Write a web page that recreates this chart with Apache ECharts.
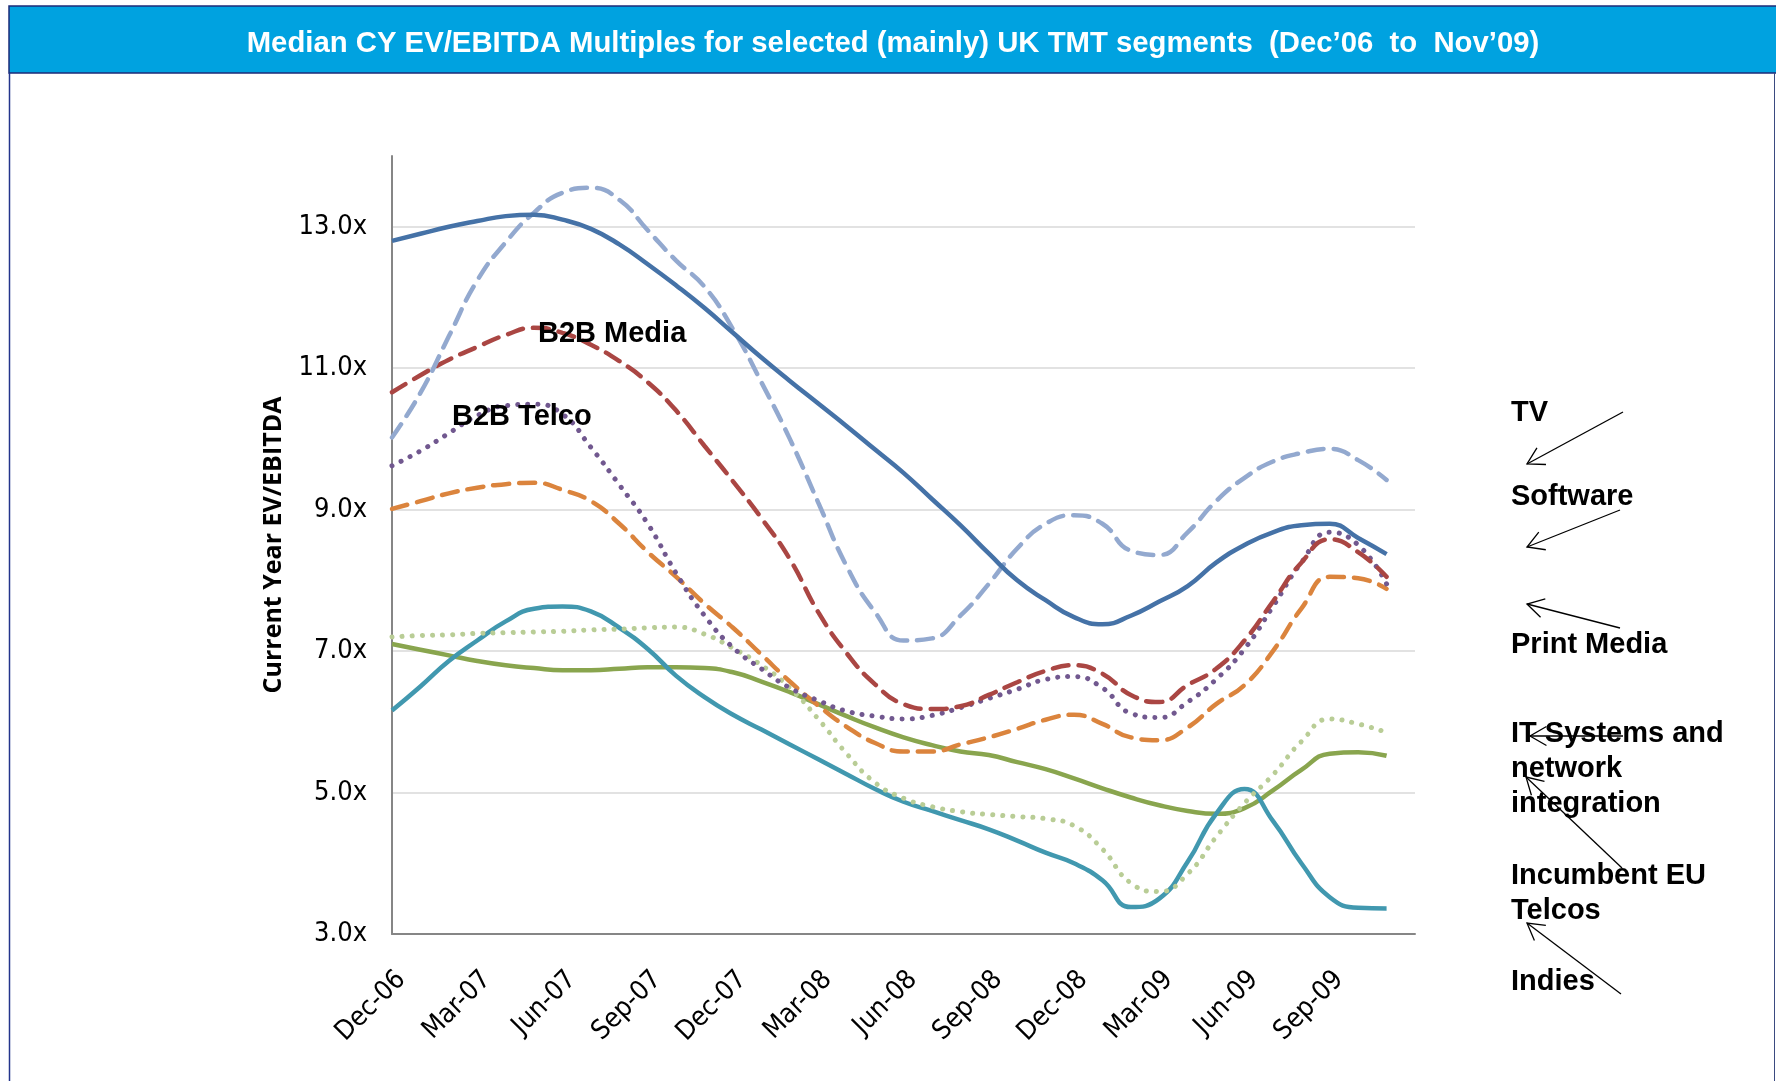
<!DOCTYPE html>
<html>
<head>
<meta charset="utf-8">
<script src="https://cdn.jsdelivr.net/npm/echarts@6/dist/echarts.min.js"></script>
<style>
    html, body { margin: 0; padding: 0; background: #fff; }
    #chart { width: 1776px; height: 1081px; }
</style>
</head>
<body>
<div id="chart"></div>
<script>
(function () {
    var chart = echarts.init(document.getElementById('chart'));

    // months on the category axis (last one is only axis room, no point)
    var months = ['Dec-06', 'Jan-07', 'Feb-07', 'Mar-07', 'Apr-07', 'May-07', 'Jun-07', 'Jul-07', 'Aug-07',
        'Sep-07', 'Oct-07', 'Nov-07', 'Dec-07', 'Jan-08', 'Feb-08', 'Mar-08', 'Apr-08', 'May-08', 'Jun-08',
        'Jul-08', 'Aug-08', 'Sep-08', 'Oct-08', 'Nov-08', 'Dec-08', 'Jan-09', 'Feb-09', 'Mar-09', 'Apr-09',
        'May-09', 'Jun-09', 'Jul-09', 'Aug-09', 'Sep-09', 'Oct-09', 'Nov-09', 'Dec-09'];

    var yTicks = [3, 5, 7, 9, 11, 13];

    var tvData = [10.02, 10.65, 11.45, 12.24, 12.78, 13.20, 13.48, 13.55, 13.38, 12.95, 12.52, 12.15, 11.55, 10.80,
        10.00, 9.10, 8.20, 7.55, 7.15, 7.18, 7.50, 7.95, 8.45, 8.80, 8.92, 8.80, 8.42, 8.36, 8.68, 9.12, 9.45, 9.68,
        9.80, 9.86, 9.70, 9.42];
    var softwareData = [12.80, 12.90, 13.00, 13.08, 13.15, 13.17, 13.10, 12.97, 12.75, 12.47, 12.17, 11.85, 11.50,
        11.15, 10.82, 10.50, 10.18, 9.85, 9.52, 9.15, 8.78, 8.38, 8.00, 7.72, 7.48, 7.38, 7.50, 7.70, 7.92, 8.25, 8.50,
        8.68, 8.78, 8.80, 8.60, 8.37];
    var b2bMediaData = [10.66, 10.90, 11.12, 11.30, 11.47, 11.57, 11.50, 11.33, 11.10, 10.80, 10.40, 9.90, 9.40, 8.88,
        8.30, 7.55, 6.97, 6.53, 6.25, 6.18, 6.22, 6.38, 6.56, 6.72, 6.80, 6.68, 6.38, 6.28, 6.52, 6.75, 7.15, 7.70,
        8.25, 8.58, 8.40, 8.05];
    var b2bTelcoData = [9.62, 9.83, 10.08, 10.33, 10.47, 10.49, 10.35, 9.88, 9.35, 8.80, 8.10, 7.50, 7.05, 6.75, 6.48,
        6.30, 6.15, 6.08, 6.04, 6.09, 6.20, 6.33, 6.46, 6.60, 6.64, 6.48, 6.12, 6.06, 6.28, 6.60, 7.03, 7.63, 8.25,
        8.68, 8.50, 7.95];
    var printMediaData = [9.01, 9.12, 9.23, 9.31, 9.36, 9.38, 9.28, 9.12, 8.80, 8.40, 8.05, 7.67, 7.33, 6.95, 6.57,
        6.23, 5.93, 5.70, 5.58, 5.58, 5.68, 5.78, 5.90, 6.03, 6.10, 5.97, 5.78, 5.74, 5.92, 6.25, 6.52, 7.00, 7.60,
        8.05, 8.03, 7.88];
    var itSystemsData = [7.20, 7.22, 7.23, 7.25, 7.26, 7.27, 7.28, 7.30, 7.31, 7.33, 7.34, 7.24, 7.04, 6.80, 6.48,
        6.04, 5.55, 5.14, 4.92, 4.80, 4.73, 4.69, 4.66, 4.63, 4.53, 4.20, 3.72, 3.60, 3.85, 4.37, 4.85, 5.25, 5.72,
        6.04, 5.97, 5.85];
    var incumbentData = [7.10, 7.02, 6.94, 6.86, 6.80, 6.76, 6.73, 6.73, 6.75, 6.77, 6.77, 6.76, 6.70, 6.57, 6.42,
        6.25, 6.08, 5.92, 5.78, 5.67, 5.58, 5.53, 5.43, 5.33, 5.20, 5.06, 4.93, 4.82, 4.74, 4.70, 4.78, 5.03, 5.32,
        5.55, 5.57, 5.52];
    var indiesData = [6.16, 6.50, 6.86, 7.15, 7.42, 7.60, 7.63, 7.56, 7.33, 7.03, 6.65, 6.35, 6.10, 5.89, 5.68, 5.47,
        5.26, 5.05, 4.87, 4.74, 4.61, 4.48, 4.32, 4.15, 4.00, 3.76, 3.38, 3.50, 4.02, 4.70, 5.05, 4.60, 4.00, 3.52,
        3.37, 3.36];

    var DASH = [16, 10];
    var DOT = [0.1, 10];

    function lineSeries(name, data, color, type) {
        return {
            name: name,
            type: 'line',
            data: data,
            smooth: 0.5,
            showSymbol: false,
            lineStyle: {
                color: color,
                width: type === DOT ? 5 : 4.5,
                type: type || 'solid',
                cap: type ? 'round' : 'butt'
            }
        };
    }

    function arrow(x1, y1, x2, y2) {
        var a = Math.atan2(y1 - y2, x1 - x2), len = 19, spread = Math.PI / 6;
        var style = { stroke: '#000', lineWidth: 1.3, fill: null };
        return [
            { type: 'line', shape: { x1: x1, y1: y1, x2: x2, y2: y2 }, style: style, z: 100 },
            {
                type: 'polyline', z: 100, style: style,
                shape: {
                    points: [
                        [x2 + len * Math.cos(a - spread), y2 + len * Math.sin(a - spread)],
                        [x2, y2],
                        [x2 + len * Math.cos(a + spread), y2 + len * Math.sin(a + spread)]
                    ]
                }
            }
        ];
    }

    var boldText = {
        fill: '#000',
        font: 'bold 29px "Liberation Sans", Arial, sans-serif',
        lineHeight: 35
    };

    // y is the middle of the first line
    function label(text, x, y) {
        return {
            type: 'text', x: x, y: y - 17.5, z: 100,
            style: Object.assign({ text: text, textVerticalAlign: 'top' }, boldText)
        };
    }

    var graphics = [
        {
            type: 'rect', z: -10,
            shape: { x: 9, y: 6, width: 1770, height: 67 },
            style: { fill: '#00A2E0', stroke: '#1C2B78', lineWidth: 1.5 }
        },
        { type: 'line', z: -10, shape: { x1: 9.5, y1: 73, x2: 9.5, y2: 1081 }, style: { stroke: '#23348C', lineWidth: 1.5 } },
        { type: 'line', z: -10, shape: { x1: 1774.5, y1: 73, x2: 1774.5, y2: 1081 }, style: { stroke: '#3A4A80', lineWidth: 1 } },
        label('B2B Media', 538, 334),
        label('B2B Telco', 452, 417),
        label('TV', 1511, 413),
        label('Software', 1511, 497),
        label('Print Media', 1511, 645),
        label('IT Systems and\nnetwork\nintegration', 1511, 734),
        label('Incumbent EU\nTelcos', 1511, 876),
        label('Indies', 1511, 982)
    ];

    graphics = graphics
        .concat(arrow(1623, 412, 1527, 464))
        .concat(arrow(1620, 510, 1527, 547))
        .concat(arrow(1620, 628, 1527, 604))
        .concat(arrow(1623, 736, 1530, 736))
        .concat(arrow(1622, 868, 1526, 777))
        .concat(arrow(1621, 994, 1527, 923));

    var option = {
        backgroundColor: '#fff',
        animation: false,

        title: {
            text: 'Median CY EV/EBITDA Multiples for selected (mainly) UK TMT segments  (Dec\u201906  to  Nov\u201909)',
            left: 888,
            textAlign: 'center',
            top: 24,
            textStyle: {
                color: '#fff',
                fontSize: 29.3,
                fontWeight: 'bold',
                fontFamily: '"Liberation Sans", Arial, sans-serif'
            }
        },

        grid: {
            left: 392,
            right: 361,
            top: 156,
            bottom: 147
        },

        xAxis: {
            type: 'category',
            data: months,
            boundaryGap: false,
            axisLine: { lineStyle: { color: '#868686', width: 2 } },
            axisTick: { show: false },
            splitLine: { show: false },
            axisLabel: {
                interval: function (index) {
                    return index % 3 === 0 && index < months.length - 1;
                },
                rotate: 45,
                margin: 32,
                verticalAlign: 'top',
                color: '#000',
                fontSize: 27,
                fontFamily: '"Liberation Sans Narrow", "DejaVu Sans Condensed", sans-serif'
            }
        },

        yAxis: {
            type: 'value',
            min: 3,
            max: 14,
            interval: 2,
            name: 'Current Year EV/EBITDA',
            nameLocation: 'middle',
            nameRotate: 90,
            nameGap: 106,
            nameTextStyle: {
                color: '#000',
                fontSize: 25,
                fontWeight: 'bold',
                fontFamily: '"Open Sans", sans-serif'
            },
            axisLine: { show: true, lineStyle: { color: '#868686', width: 2 } },
            axisTick: { show: false },
            // lines at 3..13 grey, the extra one at max 14 hidden
            splitLine: {
                lineStyle: {
                    color: ['#D9D9D9', '#D9D9D9', '#D9D9D9', '#D9D9D9', '#D9D9D9', '#D9D9D9', 'rgba(0,0,0,0)'],
                    width: 1.5
                }
            },
            axisLabel: {
                margin: 25,
                color: '#000',
                fontSize: 27,
                fontFamily: '"Liberation Sans Narrow", "DejaVu Sans Condensed", sans-serif',
                formatter: function (v) {
                    return yTicks.indexOf(v) > -1 ? v.toFixed(1) + 'x' : '';
                }
            }
        },

        graphic: graphics,

        series: [
            lineSeries('Incumbent EU Telcos', incumbentData, '#89A54E'),
            lineSeries('Indies', indiesData, '#4198AF'),
            lineSeries('IT Systems and network integration', itSystemsData, '#B9CD96', DOT),
            lineSeries('Print Media', printMediaData, '#DB843D', DASH),
            lineSeries('B2B Telco', b2bTelcoData, '#71588F', DOT),
            lineSeries('B2B Media', b2bMediaData, '#AA4643', DASH),
            lineSeries('TV', tvData, '#93A9CF', DASH),
            lineSeries('Software', softwareData, '#4572A7')
        ]
    };

    chart.setOption(option);
})();
</script>
</body>
</html>
